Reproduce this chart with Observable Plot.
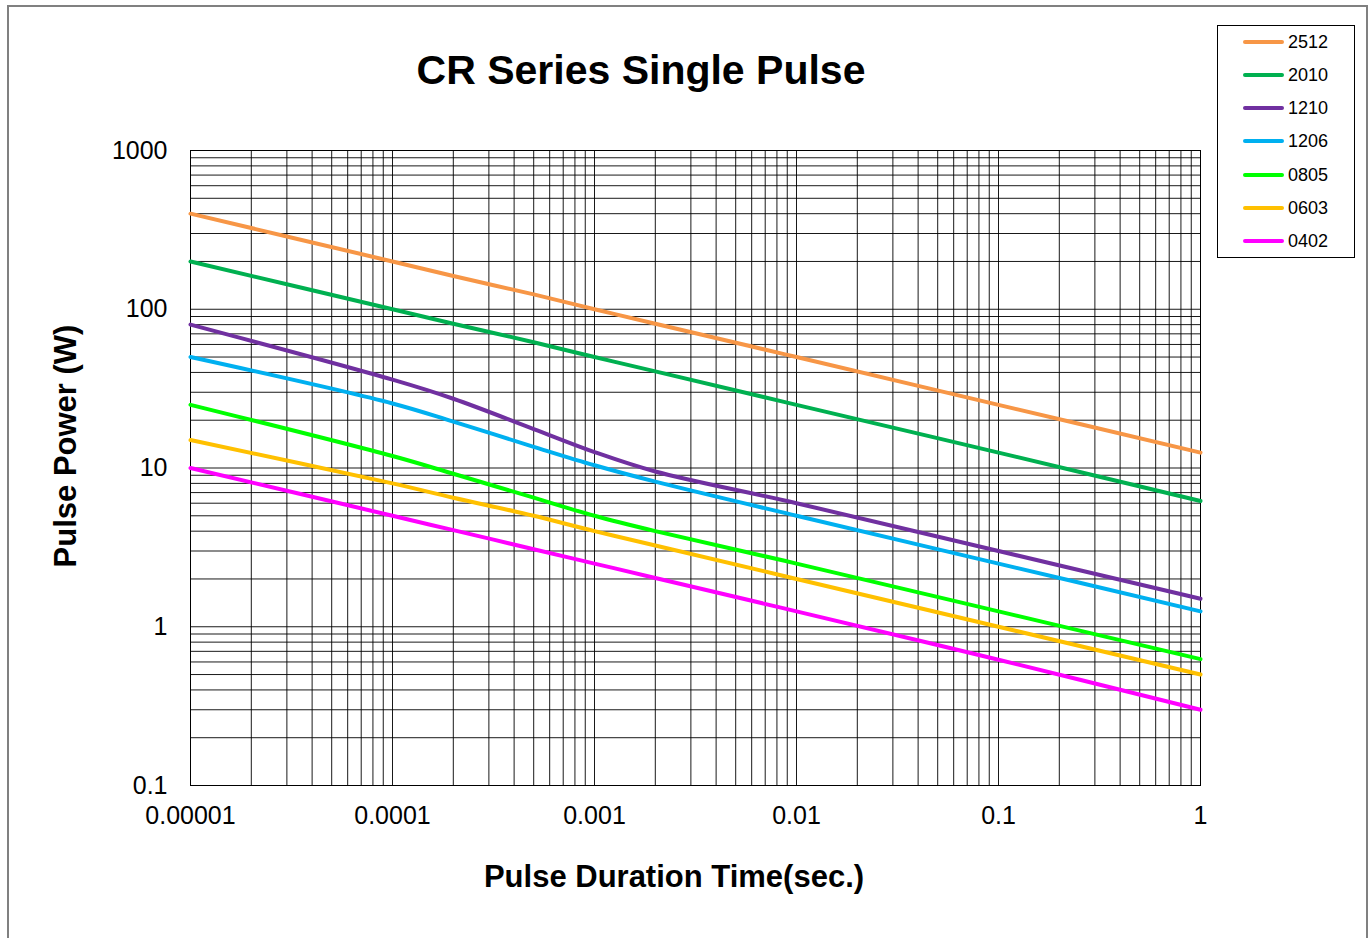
<!DOCTYPE html>
<html>
<head>
<meta charset="utf-8">
<script src="https://cdn.jsdelivr.net/npm/d3@7"></script>
<script src="https://cdn.jsdelivr.net/npm/@observablehq/plot@0.6"></script>
<style>
  html, body { margin: 0; padding: 0; background: #fff; overflow: hidden; }
  #wrap { position: relative; width: 1371px; height: 938px; font-family: "Liberation Sans", Arial, sans-serif; color: #000; }
  #chart { position: absolute; left: 0; top: 0; }
  .abs { position: absolute; white-space: nowrap; }
  #title { left: 0; width: 1282px; top: 50px; text-align: center; font-weight: bold; font-size: 41px; line-height: 41px; }
  #ylab { left: 65px; top: 446px; transform: translate(-50%, -50%) rotate(-90deg); font-weight: bold; font-size: 31px; line-height: 31px; }
  #xlab { left: 674px; top: 876px; transform: translate(-50%, -50%); font-weight: bold; font-size: 31px; line-height: 31px; }
  #legend { left: 1217px; top: 25px; width: 136px; height: 231px; border: 1px solid #000; background: #fff; }
  .item { position: absolute; left: 0; height: 20px; width: 136px; }
  .sw { position: absolute; left: 25px; top: 8px; width: 41px; height: 4px; border-radius: 2px; }
  .lt { position: absolute; left: 70px; top: 0; font-size: 18px; line-height: 20px; }
  #outer { left: 7px; top: 5px; width: 1357px; height: 960px; border: 2px solid #808080; pointer-events: none; }
</style>
</head>
<body>
<div id="wrap">
  <div id="chart"></div>
  <div id="title" class="abs">CR Series Single Pulse</div>
  <div id="ylab" class="abs">Pulse Power (W)</div>
  <div id="xlab" class="abs">Pulse Duration Time(sec.)</div>
  <div id="legend" class="abs"></div>
  <div id="outer" class="abs"></div>
</div>
<script>
// ---- data ----
const seriesNames = ["2512", "2010", "1210", "1206", "0805", "0603", "0402"];
const seriesColors = ["#F79646", "#00B050", "#7030A0", "#00B0F0", "#00FF00", "#FFC000", "#FF00FF"];
const times = [0.00001, 0.0001, 0.0002, 0.0005, 0.001, 0.002, 0.01, 0.1, 1];
const p2512 = [400, 200, 162, 124, 100, 81, 50, 25, 12.5];
const p2010 = [200, 100, 81, 62, 50, 40.6, 25, 12.5, 6.2];
const p1210 = [80, 36, 27.3, 17.6, 12.6, 9.5, 6, 3, 1.5];
const p1206 = [50, 25.5, 19.6, 13.6, 10.4, 8.2, 5, 2.5, 1.25];
const p0805 = [25, 11.9, 9.2, 6.5, 5, 4.0, 2.5, 1.25, 0.625];
const p0603 = [15, 8, 6.5, 5, 4, 3.25, 2, 1, 0.5];
const p0402 = [10, 5, 4.06, 3.08, 2.5, 2.03, 1.25, 0.62, 0.3];
const xTicks = [0.00001, 0.0001, 0.001, 0.01, 0.1, 1];
const xTickLabels = ["0.00001", "0.0001", "0.001", "0.01", "0.1", "1"];
const yTicks = [0.1, 1, 10, 100, 1000];
const yTickLabels = ["0.1", "1", "10", "100", "1000"];

const seriesValues = [p2512, p2010, p1210, p1206, p0805, p0603, p0402];
const rows = [];
seriesNames.forEach((name, k) => {
  times.forEach((t, i) => rows.push({series: name, t, p: seriesValues[k][i]}));
});

const xGrid = d3.scaleLog().domain([1e-5, 1]).ticks();
const yGrid = d3.scaleLog().domain([0.1, 1000]).ticks();
const xLab = new Map(xTicks.map((d, i) => [d, xTickLabels[i]]));
const yLab = new Map(yTicks.map((d, i) => [d, yTickLabels[i]]));

const chart = Plot.plot({
  width: 1371,
  height: 938,
  marginLeft: 190,
  marginRight: 171,
  marginTop: 150,
  marginBottom: 153,
  style: {fontFamily: "'Liberation Sans', Arial, sans-serif", fontSize: "25px", color: "#000", background: "transparent", overflow: "visible"},
  x: {type: "log", domain: [1e-5, 1]},
  y: {type: "log", domain: [0.1, 1000]},
  color: {domain: seriesNames, range: seriesColors},
  marks: [
    Plot.ruleX(xGrid, {stroke: "#000", strokeWidth: 1, strokeOpacity: 0.9}),
    Plot.ruleY(yGrid, {stroke: "#000", strokeWidth: 1, strokeOpacity: 0.9}),
    Plot.frame({stroke: "#000", strokeWidth: 1}),
    Plot.axisX({ticks: xTicks, tickFormat: d => xLab.get(d), tickSize: 0, tickPadding: 21, label: null, fontSize: 25}),
    Plot.axisY({ticks: yTicks, tickFormat: d => yLab.get(d), tickSize: 0, tickPadding: 23, label: null, fontSize: 25}),
    Plot.line(rows, {x: "t", y: "p", z: "series", stroke: "series", strokeWidth: 4, curve: "catmull-rom"})
  ]
});
document.getElementById("chart").appendChild(chart);

// legend
const legend = document.getElementById("legend");
const rowTops = [6, 39, 72, 105, 139, 172, 205];
seriesNames.forEach((name, i) => {
  const it = document.createElement("div");
  it.className = "item";
  it.style.top = rowTops[i] + "px";
  const sw = document.createElement("div");
  sw.className = "sw";
  sw.style.background = seriesColors[i];
  const lt = document.createElement("div");
  lt.className = "lt";
  lt.textContent = name;
  it.appendChild(sw);
  it.appendChild(lt);
  legend.appendChild(it);
});
</script>
</body>
</html>
